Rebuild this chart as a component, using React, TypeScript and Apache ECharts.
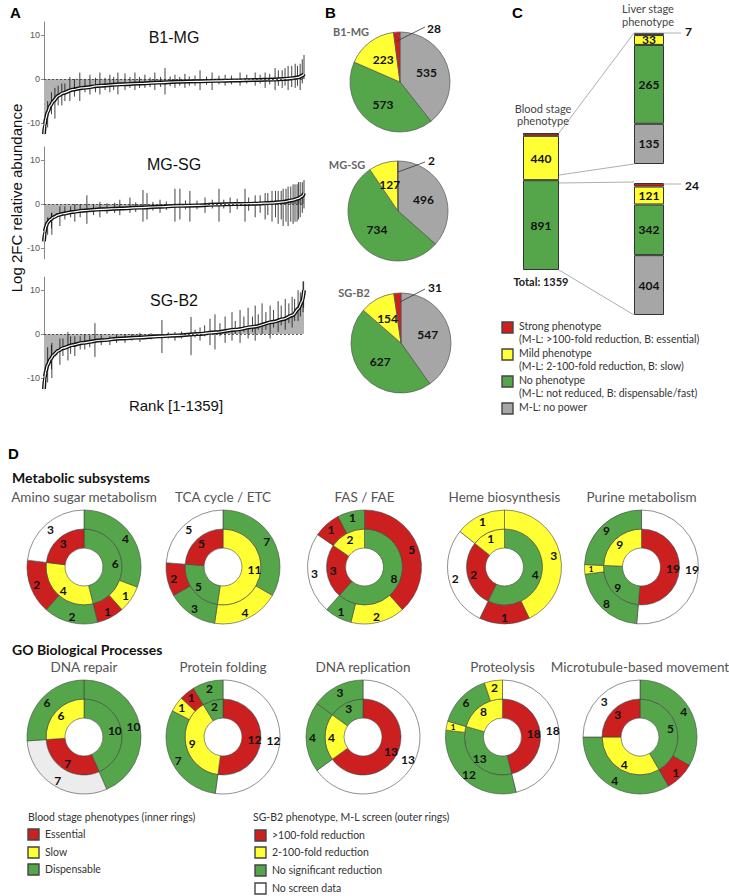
import React, { useEffect, useRef } from 'react';
import * as echarts from 'echarts';

// ---------- colours ----------
const RED = '#cc1f1f';
const YEL = '#ffff33';
const GRN = '#55a64b';
const GRY = '#a6a6a6';
const WHT = '#ffffff';
const LGR = '#ececec';
const colorOf: Record<string, string> = { R: RED, Y: YEL, G: GRN, N: GRY, W: WHT, L: LGR };

const FONT_A = '"Liberation Sans", Arial, sans-serif';
const FONT_C = 'Lato, "Open Sans", sans-serif';

// ---------- Panel A data ----------
const panelATitles = ['B1-MG', 'MG-SG', 'SG-B2'];
const yTickValues = [-10, 0, 10];
const rankSample = [1, 5, 10, 20, 35, 50, 75, 100, 150, 200, 300, 400, 500, 600, 700, 800, 900, 1000, 1100, 1200, 1250, 1300, 1330, 1350, 1359];
const b1mgMedian = [-12.5, -10.5, -9, -7.5, -6, -5, -3.8, -3.2, -2.4, -2, -1.5, -1.2, -1.0, -0.8, -0.6, -0.5, -0.4, -0.3, -0.2, -0.1, 0, 0.2, 0.4, 0.8, 1.2];
const mgsgMedian = [-8.5, -6.5, -5.2, -4.2, -3.5, -3.0, -2.5, -2.2, -1.8, -1.5, -1.2, -1.0, -0.8, -0.6, -0.4, -0.3, -0.1, 0, 0.1, 0.3, 0.5, 0.9, 1.3, 1.8, 2.5];
const sgb2Median = [-12.5, -10, -8.5, -7, -5.7, -4.8, -3.8, -3.2, -2.5, -2.0, -1.4, -1.0, -0.8, -0.5, -0.3, 0, 0.4, 1.0, 1.7, 2.8, 3.4, 4.3, 5.8, 7.5, 10];

// error bars: [rank, low, high]
const b1mgBars = [
  [20, -11, -5], [40, -8, -3], [58, -9, -2], [75, -6, -1.5], [94, -6, -1], [110, -5, -1], [136, -5, 0.5], [160, -4, 0],
  [188, -5, 1.5], [215, -3, 0], [241, -3.5, 1], [270, -3, 0.3], [293, -3.5, 1.5], [320, -2.5, 0.3], [345, -3, 1], [365, -2.5, 0.5],
  [387, -3.5, 1.5], [424, -2.5, 1.3], [450, -2, 0.5], [476, -2.5, 1.5], [500, -2, 0.5], [528, -2, 1], [555, -1.8, 0.4], [580, -2.5, 1.5],
  [610, -1.8, 0.5], [633, -3.5, 2.5], [660, -1.6, 0.6], [685, -2, 1], [710, -1.5, 0.5], [737, -2, 1.2], [760, -1.5, 0.6], [790, -1.5, 0.8],
  [816, -2.5, 2], [850, -1.3, 0.6], [879, -2.5, 1.5], [915, -1.2, 0.8], [947, -1.5, 1], [980, -1.2, 0.8], [1025, -1.5, 1.5], [1060, -1, 1],
  [1104, -1.5, 1.5], [1130, -1, 1], [1156, -2, 1.5], [1180, -1.2, 1.2], [1208, -2.5, 2.5], [1225, -1.5, 2], [1245, -2, 2], [1260, -1.5, 2.5],
  [1276, -2.5, 3], [1295, -1.8, 3], [1313, -2, 3.5], [1325, -1.5, 3], [1339, -2.5, 3.5], [1350, -1, 4.5], [1359, 0, 5.5]
];
const mgsgBars = [
  [20, -7, -3], [40, -5.5, -2], [42, -7, -2], [84, -5, -0.5], [110, -3.5, -0.5], [140, -3, -0.5], [162, -4, 0], [190, -3, 0],
  [225, -4.5, 2], [260, -2.5, 0], [293, -3, 0.5], [330, -2.2, 0.2], [370, -2, 0.3], [397, -2.5, 1], [450, -2, 1.5], [480, -1.8, 0.4],
  [518, -4, 3.2], [539, -3.5, 2.5], [570, -1.5, 0.5], [607, -2, 1], [640, -1.3, 0.6], [685, -4, 3.5], [711, -3.5, 3.5], [740, -1.2, 0.8],
  [763, -4, 3], [800, -1.2, 0.8], [842, -2, 1.5], [880, -1, 1], [915, -4, 3.5], [940, -1, 1], [973, -2, 1.5], [1010, -1.2, 1.2],
  [1051, -4, 3.5], [1070, -1.5, 1.5], [1104, -3, 2], [1130, -2, 2], [1156, -3.5, 2.5], [1170, -2.5, 2.5], [1192, -4, 3], [1210, -3, 3],
  [1224, -4.5, 3], [1240, -3.5, 3], [1250, -5, 3.5], [1265, -4, 3.5], [1276, -5, 4], [1290, -4, 4], [1302, -4.5, 4.5], [1312, -4, 4.5],
  [1323, -4, 4.5], [1330, -3.5, 5], [1339, -3, 5], [1350, -2, 5], [1359, -1, 5.5]
];
const sgb2Bars = [
  [20, -11, -3], [40, -8, -2.5], [42, -10, -2], [84, -7, -1], [100, -5, -1], [126, -6, 0.5], [140, -4.5, -0.5], [162, -5, -0.5],
  [190, -3.5, -0.5], [214, -3.5, 0], [240, -3, -0.3], [267, -5.2, 2.5], [300, -2.5, -0.3], [345, -2.5, -0.5], [380, -2, -0.2], [424, -2, 0],
  [460, -1.5, 0], [502, -1.8, 0.3], [560, -1.2, 0.2], [617, -4.3, 3.2], [650, -1, 0.4], [685, -1.5, 0.5], [720, -1, 0.6], [769, -4.8, 3.9],
  [790, -0.8, 1], [816, -1.5, 1.5], [840, -0.5, 2], [868, -2.5, 3.5], [894, -3.5, 4.5], [920, -0.5, 2.5], [947, -2, 4], [983, -1.5, 5],
  [1000, 0, 3], [1025, -2, 5.5], [1045, 0.5, 4], [1067, -1, 6], [1090, 0.5, 4], [1104, -1.5, 6.5], [1120, 1, 4.5], [1140, 0, 7],
  [1160, 1, 5], [1182, -1, 6.5], [1200, 1.5, 5.5], [1224, 0.5, 7.5], [1240, 2, 6.5], [1261, 1, 8], [1280, 2.5, 7], [1297, 1.5, 8.5],
  [1310, 3, 8], [1328, 3, 10], [1340, 4, 9.5], [1354, 5, 12], [1357, 6, 12]
];

// ---------- Panel B data ----------
const pieCategories = ['M-L: no power', 'No phenotype', 'Mild phenotype', 'Strong phenotype'];
const pieColors = [GRY, GRN, YEL, RED];
const pieTitles = ['B1-MG', 'MG-SG', 'SG-B2'];
const b1mgPie = [535, 573, 223, 28];
const mgsgPie = [496, 734, 127, 2];
const sgb2Pie = [547, 627, 154, 31];

// ---------- Panel C data ----------
const bloodStageKinds = ['G', 'Y', 'R'];
const bloodStageValues = [891, 440, 28];
const liverKinds = ['N', 'G', 'Y', 'R'];
const liverOfSlow = [135, 265, 33, 7];
const liverOfDispensable = [404, 342, 121, 24];

// ---------- Panel D data ([class, genes], clockwise from 12 o'clock) ----------
const metabolicTitles = ['Amino sugar metabolism', 'TCA cycle / ETC', 'FAS / FAE', 'Heme biosynthesis', 'Purine metabolism'];
const goTitles = ['DNA repair', 'Protein folding', 'DNA replication', 'Proteolysis', 'Microtubule-based movement'];
const aminoInner: [string, number][] = [['G', 6], ['Y', 4], ['R', 3]];
const aminoOuter: [string, number][] = [['G', 4], ['Y', 1], ['R', 1], ['G', 2], ['R', 2], ['W', 3]];
const tcaInner: [string, number][] = [['Y', 11], ['G', 5], ['R', 5]];
const tcaOuter: [string, number][] = [['G', 7], ['Y', 4], ['G', 3], ['R', 2], ['W', 5]];
const fasInner: [string, number][] = [['G', 8], ['R', 3], ['Y', 2]];
const fasOuter: [string, number][] = [['R', 5], ['Y', 2], ['G', 1], ['W', 3], ['R', 1], ['G', 1]];
const hemeInner: [string, number][] = [['G', 4], ['R', 2], ['Y', 1]];
const hemeOuter: [string, number][] = [['Y', 3], ['R', 1], ['W', 2], ['Y', 1]];
const purineInner: [string, number][] = [['R', 19], ['G', 9], ['Y', 9]];
const purineOuter: [string, number][] = [['W', 19], ['G', 8], ['Y', 1], ['G', 9]];
const repairInner: [string, number][] = [['G', 10], ['R', 7], ['Y', 6]];
const repairOuter: [string, number][] = [['G', 10], ['L', 7], ['G', 6]];
const foldingInner: [string, number][] = [['R', 12], ['Y', 9], ['G', 2]];
const foldingOuter: [string, number][] = [['W', 12], ['G', 7], ['Y', 1], ['R', 1], ['G', 2]];
const replicationInner: [string, number][] = [['R', 13], ['Y', 4], ['G', 3]];
const replicationOuter: [string, number][] = [['W', 13], ['G', 4], ['G', 3]];
const proteolysisInner: [string, number][] = [['R', 18], ['G', 13], ['Y', 8]];
const proteolysisOuter: [string, number][] = [['W', 18], ['G', 12], ['Y', 1], ['G', 6], ['Y', 2]];
const microInner: [string, number][] = [['G', 5], ['Y', 4], ['R', 3]];
const microOuter: [string, number][] = [['G', 4], ['R', 1], ['G', 4], ['W', 3]];

const innerLegend = ['Essential', 'Slow', 'Dispensable'];
const outerLegend = ['>100-fold reduction', '2-100-fold reduction', 'No significant reduction', 'No screen data'];
const cLegend = [
  ['Strong phenotype', '(M-L: >100-fold reduction, B: essential)'],
  ['Mild phenotype', '(M-L: 2-100-fold reduction, B: slow)'],
  ['No phenotype', '(M-L: not reduced, B: dispensable/fast)'],
  ['M-L: no power', '']
];

// ---------- helpers ----------
function txt(x: number, y: number, text: string, o: any = {}) {
  return {
    type: 'text', x, y, rotation: o.rotation || 0, silent: true, z: 100,
    style: {
      text, fill: o.color || '#222', fontSize: o.size || 12, fontFamily: o.family || FONT_C,
      fontWeight: o.weight || 'normal', align: o.align || 'left', verticalAlign: 'middle'
    }
  };
}
function ln(x1: number, y1: number, x2: number, y2: number, color = '#999', w = 0.8) {
  return { type: 'line', silent: true, z: 50, shape: { x1, y1, x2, y2 }, style: { stroke: color, lineWidth: w } };
}
function box(x: number, y: number, fill: string, s = 11) {
  return { type: 'rect', silent: true, z: 50, shape: { x, y, width: s, height: s }, style: { fill, stroke: '#444', lineWidth: 1.4 } };
}

function donut(cx: number, cy: number, ring: [string, number][], r0: number, r1: number) {
  const total = ring.reduce((s, d) => s + d[1], 0);
  return {
    type: 'pie', center: [cx, cy], radius: [r0, r1], startAngle: 90, clockwise: true, silent: true,
    avoidLabelOverlap: false, emphasis: { disabled: true },
    itemStyle: { borderColor: '#444', borderWidth: 0.6 },
    label: { show: true, position: 'inside', formatter: '{c}', color: '#111', fontWeight: 'bold', fontFamily: FONT_C, fontSize: 12 },
    labelLine: { show: false },
    data: ring.map(([k, v]) => ({
      name: k, value: v, itemStyle: { color: colorOf[k] },
      label: v / total < 0.035 ? { fontSize: 8 } : {}
    }))
  };
}

function buildOption() {
  const grids: any[] = [];
  const xAxes: any[] = [];
  const yAxes: any[] = [];
  const series: any[] = [];
  const graphics: any[] = [];

  // ---------- Panel A ----------
  const medians = [b1mgMedian, mgsgMedian, sgb2Median];
  const bars = [b1mgBars, mgsgBars, sgb2Bars];
  const aTops = [22, 147, 277];
  const aTitleY = [37, 164, 300];
  for (let i = 0; i < 3; i++) {
    grids.push({ left: 44, top: aTops[i], width: 260, height: 112, containLabel: false, outerBoundsMode: 'none' });
    xAxes.push({ gridIndex: i, type: 'value', min: 1, max: 1359, show: false });
    yAxes.push({
      gridIndex: i, type: 'value', min: -12.5, max: 13,
      axisLine: { show: true, lineStyle: { color: '#888', width: 1 } },
      axisTick: { show: true, length: 3, customValues: yTickValues, lineStyle: { color: '#888' } },
      axisLabel: { customValues: yTickValues, fontSize: 9, color: '#555', fontFamily: FONT_A, margin: 4,
        formatter: (v: number) => (v % 10 === 0 ? String(v) : '') },
      splitLine: { show: false }
    });
    const pts = rankSample.map((r, j) => [r, medians[i][j]]);
    series.push({
      type: 'line', xAxisIndex: i, yAxisIndex: i, data: pts, symbol: 'none', smooth: 0.3, smoothMonotone: 'x', silent: true,
      lineStyle: { width: 0 }, areaStyle: { color: '#b3b3b3', opacity: 1 }, z: 1,
      markLine: { silent: true, symbol: 'none', label: { show: false }, lineStyle: { type: [2, 2], color: '#333', width: 0.8 }, data: [{ yAxis: 0 }] }
    });
    series.push({
      type: 'custom', xAxisIndex: i, yAxisIndex: i, data: bars[i], silent: true, z: 2,
      encode: { x: 0, y: [1, 2] },
      renderItem: (_p: any, api: any) => {
        const r = api.value(0), lo = api.value(1), hi = api.value(2);
        const a = api.coord([r, lo]);
        const b = api.coord([r, hi]);
        return { type: 'line', shape: { x1: a[0], y1: a[1], x2: b[0], y2: b[1] }, style: { stroke: '#111', lineWidth: 0.8 } };
      }
    });
    series.push({ type: 'line', xAxisIndex: i, yAxisIndex: i, data: pts, symbol: 'none', smooth: 0.3, smoothMonotone: 'x', silent: true,
      lineStyle: { width: 4, color: '#111' }, z: 3 });
    series.push({ type: 'line', xAxisIndex: i, yAxisIndex: i, data: pts, symbol: 'none', smooth: 0.3, smoothMonotone: 'x', silent: true,
      lineStyle: { width: 1.2, color: '#fff' }, z: 4 });
    graphics.push(txt(174, aTitleY[i], panelATitles[i], { size: 16, family: FONT_A, color: '#111', align: 'center' }));
  }
  graphics.push(txt(10, 12, 'A', { size: 15, weight: 'bold', family: FONT_A, color: '#000' }));
  graphics.push(txt(16, 198, 'Log 2FC relative abundance', { size: 15, family: FONT_A, color: '#111', align: 'center', rotation: Math.PI / 2 }));
  graphics.push(txt(176, 405, 'Rank [1-1359]', { size: 15, family: FONT_A, color: '#111', align: 'center' }));

  // ---------- Panel B ----------
  const pies = [b1mgPie, mgsgPie, sgb2Pie];
  const pieCenters = [[400, 82], [398, 211], [401, 343]];
  const pieTitlePos = [[351, 31], [347, 164], [354, 292]];
  const smallLabel = [[[397, 41], [425, 27], [427, 28]], [[398, 172], [425, 162], [428, 160]], [[400, 302], [425, 289], [428, 287]]];
  for (let i = 0; i < 3; i++) {
    series.push({
      type: 'pie', center: pieCenters[i], radius: 50, startAngle: 90, clockwise: true, silent: true,
      emphasis: { disabled: true }, avoidLabelOverlap: false,
      itemStyle: { borderColor: '#555', borderWidth: 0.7 },
      label: { show: true, position: 'inside', formatter: '{c}', color: '#111', fontWeight: 'bold', fontFamily: FONT_C, fontSize: 12 },
      labelLine: { show: false },
      data: pieCategories.map((n, j) => ({ name: n, value: pies[i][j], itemStyle: { color: pieColors[j] }, label: { show: j < 3 } }))
    });
    graphics.push(txt(pieTitlePos[i][0], pieTitlePos[i][1], pieTitles[i], { size: 11, weight: 'bold', color: '#666', align: 'center' }));
    const s = smallLabel[i];
    graphics.push(ln(s[0][0], s[0][1], s[1][0], s[1][1], '#333', 0.8));
    graphics.push(txt(s[2][0], s[2][1], String(pies[i][3]), { size: 12, weight: 'bold', color: '#111' }));
  }
  graphics.push(txt(325, 12, 'B', { size: 15, weight: 'bold', family: FONT_A, color: '#000' }));

  // ---------- Panel C ----------
  const cGrids = [
    { left: 523, top: 133, width: 36, height: 137, kinds: bloodStageKinds, vals: bloodStageValues },
    { left: 634, top: 33, width: 30, height: 131, kinds: liverKinds, vals: liverOfSlow },
    { left: 634, top: 183, width: 30, height: 132, kinds: liverKinds, vals: liverOfDispensable }
  ];
  cGrids.forEach((g, k) => {
    const gi = 3 + k;
    const total = g.vals.reduce((a, b) => a + b, 0);
    grids.push({ left: g.left, top: g.top, width: g.width, height: g.height, containLabel: false, outerBoundsMode: 'none' });
    xAxes.push({ gridIndex: gi, type: 'category', data: ['n'], show: false });
    yAxes.push({ gridIndex: gi, type: 'value', min: 0, max: total, show: false });
    g.vals.forEach((v, j) => {
      series.push({
        type: 'bar', xAxisIndex: gi, yAxisIndex: gi, stack: 'c' + k, barWidth: '100%', silent: true, data: [v],
        itemStyle: { color: colorOf[g.kinds[j]], borderColor: '#333', borderWidth: 1 },
        label: { show: g.kinds[j] !== 'R', position: 'inside', formatter: '{c}', color: '#111', fontWeight: 'bold', fontFamily: FONT_C, fontSize: 12 }
      });
    });
  });
  graphics.push(txt(512, 12, 'C', { size: 15, weight: 'bold', family: FONT_A, color: '#000' }));
  graphics.push(txt(543, 108, 'Blood stage', { size: 11, color: '#444', align: 'center' }));
  graphics.push(txt(543, 120, 'phenotype', { size: 11, color: '#444', align: 'center' }));
  graphics.push(txt(648, 8, 'Liver stage', { size: 11, color: '#444', align: 'center' }));
  graphics.push(txt(648, 21, 'phenotype', { size: 11, color: '#444', align: 'center' }));
  graphics.push(txt(541, 281, 'Total: ' + bloodStageValues.reduce((a, b) => a + b, 0), { size: 11, weight: 'bold', color: '#222', align: 'center' }));
  graphics.push(ln(559, 133, 634, 33));
  graphics.push(ln(559, 175, 634, 164));
  graphics.push(ln(559, 183, 634, 182));
  graphics.push(ln(559, 270, 634, 315));
  graphics.push(ln(634, 33, 681, 33));
  graphics.push(ln(663, 184, 681, 184));
  graphics.push(txt(685, 31, String(liverOfSlow[3]), { size: 12, weight: 'bold', color: '#111' }));
  graphics.push(txt(685, 185, String(liverOfDispensable[3]), { size: 12, weight: 'bold', color: '#111' }));
  const cLegendColors = [RED, YEL, GRN, GRY];
  const cLegendY = [322, 349, 376, 403];
  cLegend.forEach((l, j) => {
    graphics.push(box(502, cLegendY[j], cLegendColors[j], 11));
    graphics.push(txt(519, cLegendY[j] + 4, l[0], { size: 10.5, color: '#333' }));
    if (l[1]) graphics.push(txt(519, cLegendY[j] + 17, l[1], { size: 10.5, color: '#333' }));
  });

  // ---------- Panel D ----------
  graphics.push(txt(8, 453, 'D', { size: 15, weight: 'bold', family: FONT_A, color: '#000' }));
  graphics.push(txt(12, 477, 'Metabolic subsystems', { size: 14, weight: 'bold', color: '#111' }));
  graphics.push(txt(12, 649, 'GO Biological Processes', { size: 14, weight: 'bold', color: '#111' }));
  const row1 = [[aminoInner, aminoOuter], [tcaInner, tcaOuter], [fasInner, fasOuter], [hemeInner, hemeOuter], [purineInner, purineOuter]];
  const row2 = [[repairInner, repairOuter], [foldingInner, foldingOuter], [replicationInner, replicationOuter], [proteolysisInner, proteolysisOuter], [microInner, microOuter]];
  const row1X = [84, 223, 364.5, 504.5, 641.5];
  const row2X = [84, 223, 363, 502.5, 640];
  row1.forEach((d, j) => {
    series.push(donut(row1X[j], 567, d[0] as any, 19, 38));
    series.push(donut(row1X[j], 567, d[1] as any, 38, 57));
    graphics.push(txt(row1X[j], 497, metabolicTitles[j], { size: 13.5, color: '#555', align: 'center' }));
  });
  row2.forEach((d, j) => {
    series.push(donut(row2X[j], 737, d[0] as any, 19, 38));
    series.push(donut(row2X[j], 737, d[1] as any, 38, 57));
    graphics.push(txt(row2X[j], 667, goTitles[j], { size: 13.5, color: '#555', align: 'center' }));
  });
  graphics.push(txt(28, 817, 'Blood stage phenotypes (inner rings)', { size: 10.5, color: '#333' }));
  const innerLegColors = [RED, YEL, GRN];
  const innerLegY = [829, 847, 864];
  innerLegend.forEach((t, j) => {
    graphics.push(box(28, innerLegY[j], innerLegColors[j], 11));
    graphics.push(txt(45, innerLegY[j] + 5, t, { size: 10.5, color: '#333' }));
  });
  graphics.push(txt(253, 817, 'SG-B2 phenotype, M-L screen (outer rings)', { size: 10.5, color: '#333' }));
  const outerLegColors = [RED, YEL, GRN, WHT];
  const outerLegY = [830, 847, 865, 883];
  outerLegend.forEach((t, j) => {
    graphics.push(box(255, outerLegY[j], outerLegColors[j], 11));
    graphics.push(txt(272, outerLegY[j] + 5, t, { size: 10.5, color: '#333' }));
  });

  return {
    animation: false,
    backgroundColor: '#fff',
    grid: grids,
    xAxis: xAxes,
    yAxis: yAxes,
    series,
    graphic: { elements: graphics }
  };
}

export default function App() {
  const ref = useRef<HTMLDivElement>(null);
  useEffect(() => {
    const chart = echarts.init(ref.current!, null, { renderer: 'svg' });
    chart.setOption(buildOption() as any);
    return () => chart.dispose();
  }, []);
  return <div ref={ref} style={{ position: 'absolute', left: 0, top: 0, width: 729, height: 896, background: '#fff' }} />;
}
